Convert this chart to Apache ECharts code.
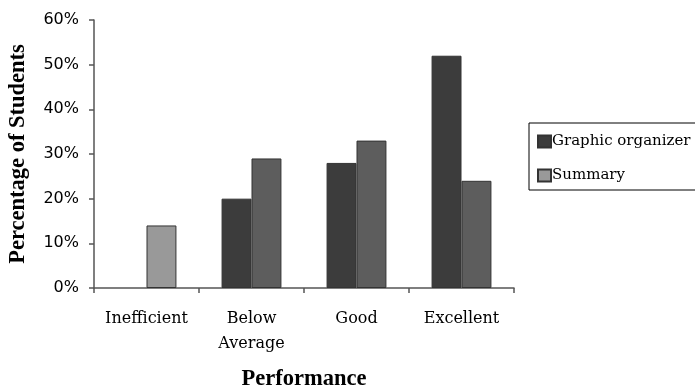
<!DOCTYPE html>
<html>
<head>
<meta charset="utf-8">
<script src="https://cdn.jsdelivr.net/npm/echarts@6/dist/echarts.min.js"></script>
<style>
  html, body { margin: 0; padding: 0; background: #fff; }
  #chart { width: 695px; height: 387px; }
</style>
</head>
<body>
<div id="chart"></div>
<script>
// Performance categories and percentage of students per group
const categories = ['Inefficient', 'Below\nAverage', 'Good', 'Excellent'];
const graphicOrganizer = [0, 20, 28, 52];
const summary = [14, 29, 33, 24];
const yTicks = [0, 10, 20, 30, 40, 50, 60];

const serif = '"DejaVu Serif", serif';
const titleSerif = '"Liberation Serif", "Times New Roman", serif';

const chart = echarts.init(document.getElementById('chart'), null, { renderer: 'canvas' });

chart.setOption({
  animation: false,
  backgroundColor: '#ffffff',
  grid: {
    left: 94, right: 181, top: 20, bottom: 99,
    containLabel: false,
    outerBoundsMode: 'none'
  },
  legend: {
    orient: 'vertical',
    left: 529,
    top: 123,
    padding: [11, 30, 7, 8],
    borderColor: '#000',
    borderWidth: 1,
    itemWidth: 13,
    itemHeight: 12,
    itemGap: 19,
    icon: 'rect',
    textStyle: { fontFamily: serif, fontSize: 15, color: '#000', padding: [0, 0, 0, -4] },
    data: ['Graphic organizer', 'Summary']
  },
  xAxis: {
    type: 'category',
    data: categories,
    name: 'Performance',
    nameLocation: 'middle',
    nameGap: 80,
    nameTextStyle: { fontFamily: titleSerif, fontWeight: 'bold', fontSize: 22.5, color: '#000' },
    axisLine: { lineStyle: { color: '#555', width: 1.5 } },
    axisTick: { show: true, length: 5, lineStyle: { color: '#555', width: 1.5 } },
    axisLabel: {
      fontFamily: serif, fontSize: 16, color: '#000', margin: 18, lineHeight: 25,
      interval: 0
    }
  },
  yAxis: {
    type: 'value',
    min: 0,
    max: 60,
    interval: 10,
    name: 'Percentage of Students',
    nameLocation: 'middle',
    nameGap: 64,
    nameRotate: 90,
    nameTextStyle: { fontFamily: titleSerif, fontWeight: 'bold', fontSize: 22.5, color: '#000' },
    axisLine: { show: true, lineStyle: { color: '#555', width: 1.5 } },
    axisTick: { show: true, length: 5, lineStyle: { color: '#555', width: 1.5 } },
    splitLine: { show: false },
    axisLabel: {
      fontFamily: '"DejaVu Sans", sans-serif', fontSize: 16, color: '#000', margin: 15,
      formatter: v => (yTicks.includes(v) ? v + '%' : '')
    }
  },
  series: [
    {
      name: 'Graphic organizer',
      type: 'bar',
      // an empty bar gets no outline at the baseline
      data: graphicOrganizer.map(v => v === 0 ? { value: v, itemStyle: { borderWidth: 0 } } : v),
      barGap: '0%',
      barCategoryGap: '43%',
      itemStyle: { color: '#3c3c3c', borderColor: '#333', borderWidth: 1 }
    },
    {
      name: 'Summary',
      type: 'bar',
      // first bar in a lighter grey, the rest in mid grey
      data: summary.map((v, i) => i === 0 ? v : { value: v, itemStyle: { color: '#5d5d5d' } }),
      barGap: '0%',
      barCategoryGap: '43%',
      itemStyle: { color: '#999999', borderColor: '#333', borderWidth: 1 }
    }
  ]
});
</script>
</body>
</html>
